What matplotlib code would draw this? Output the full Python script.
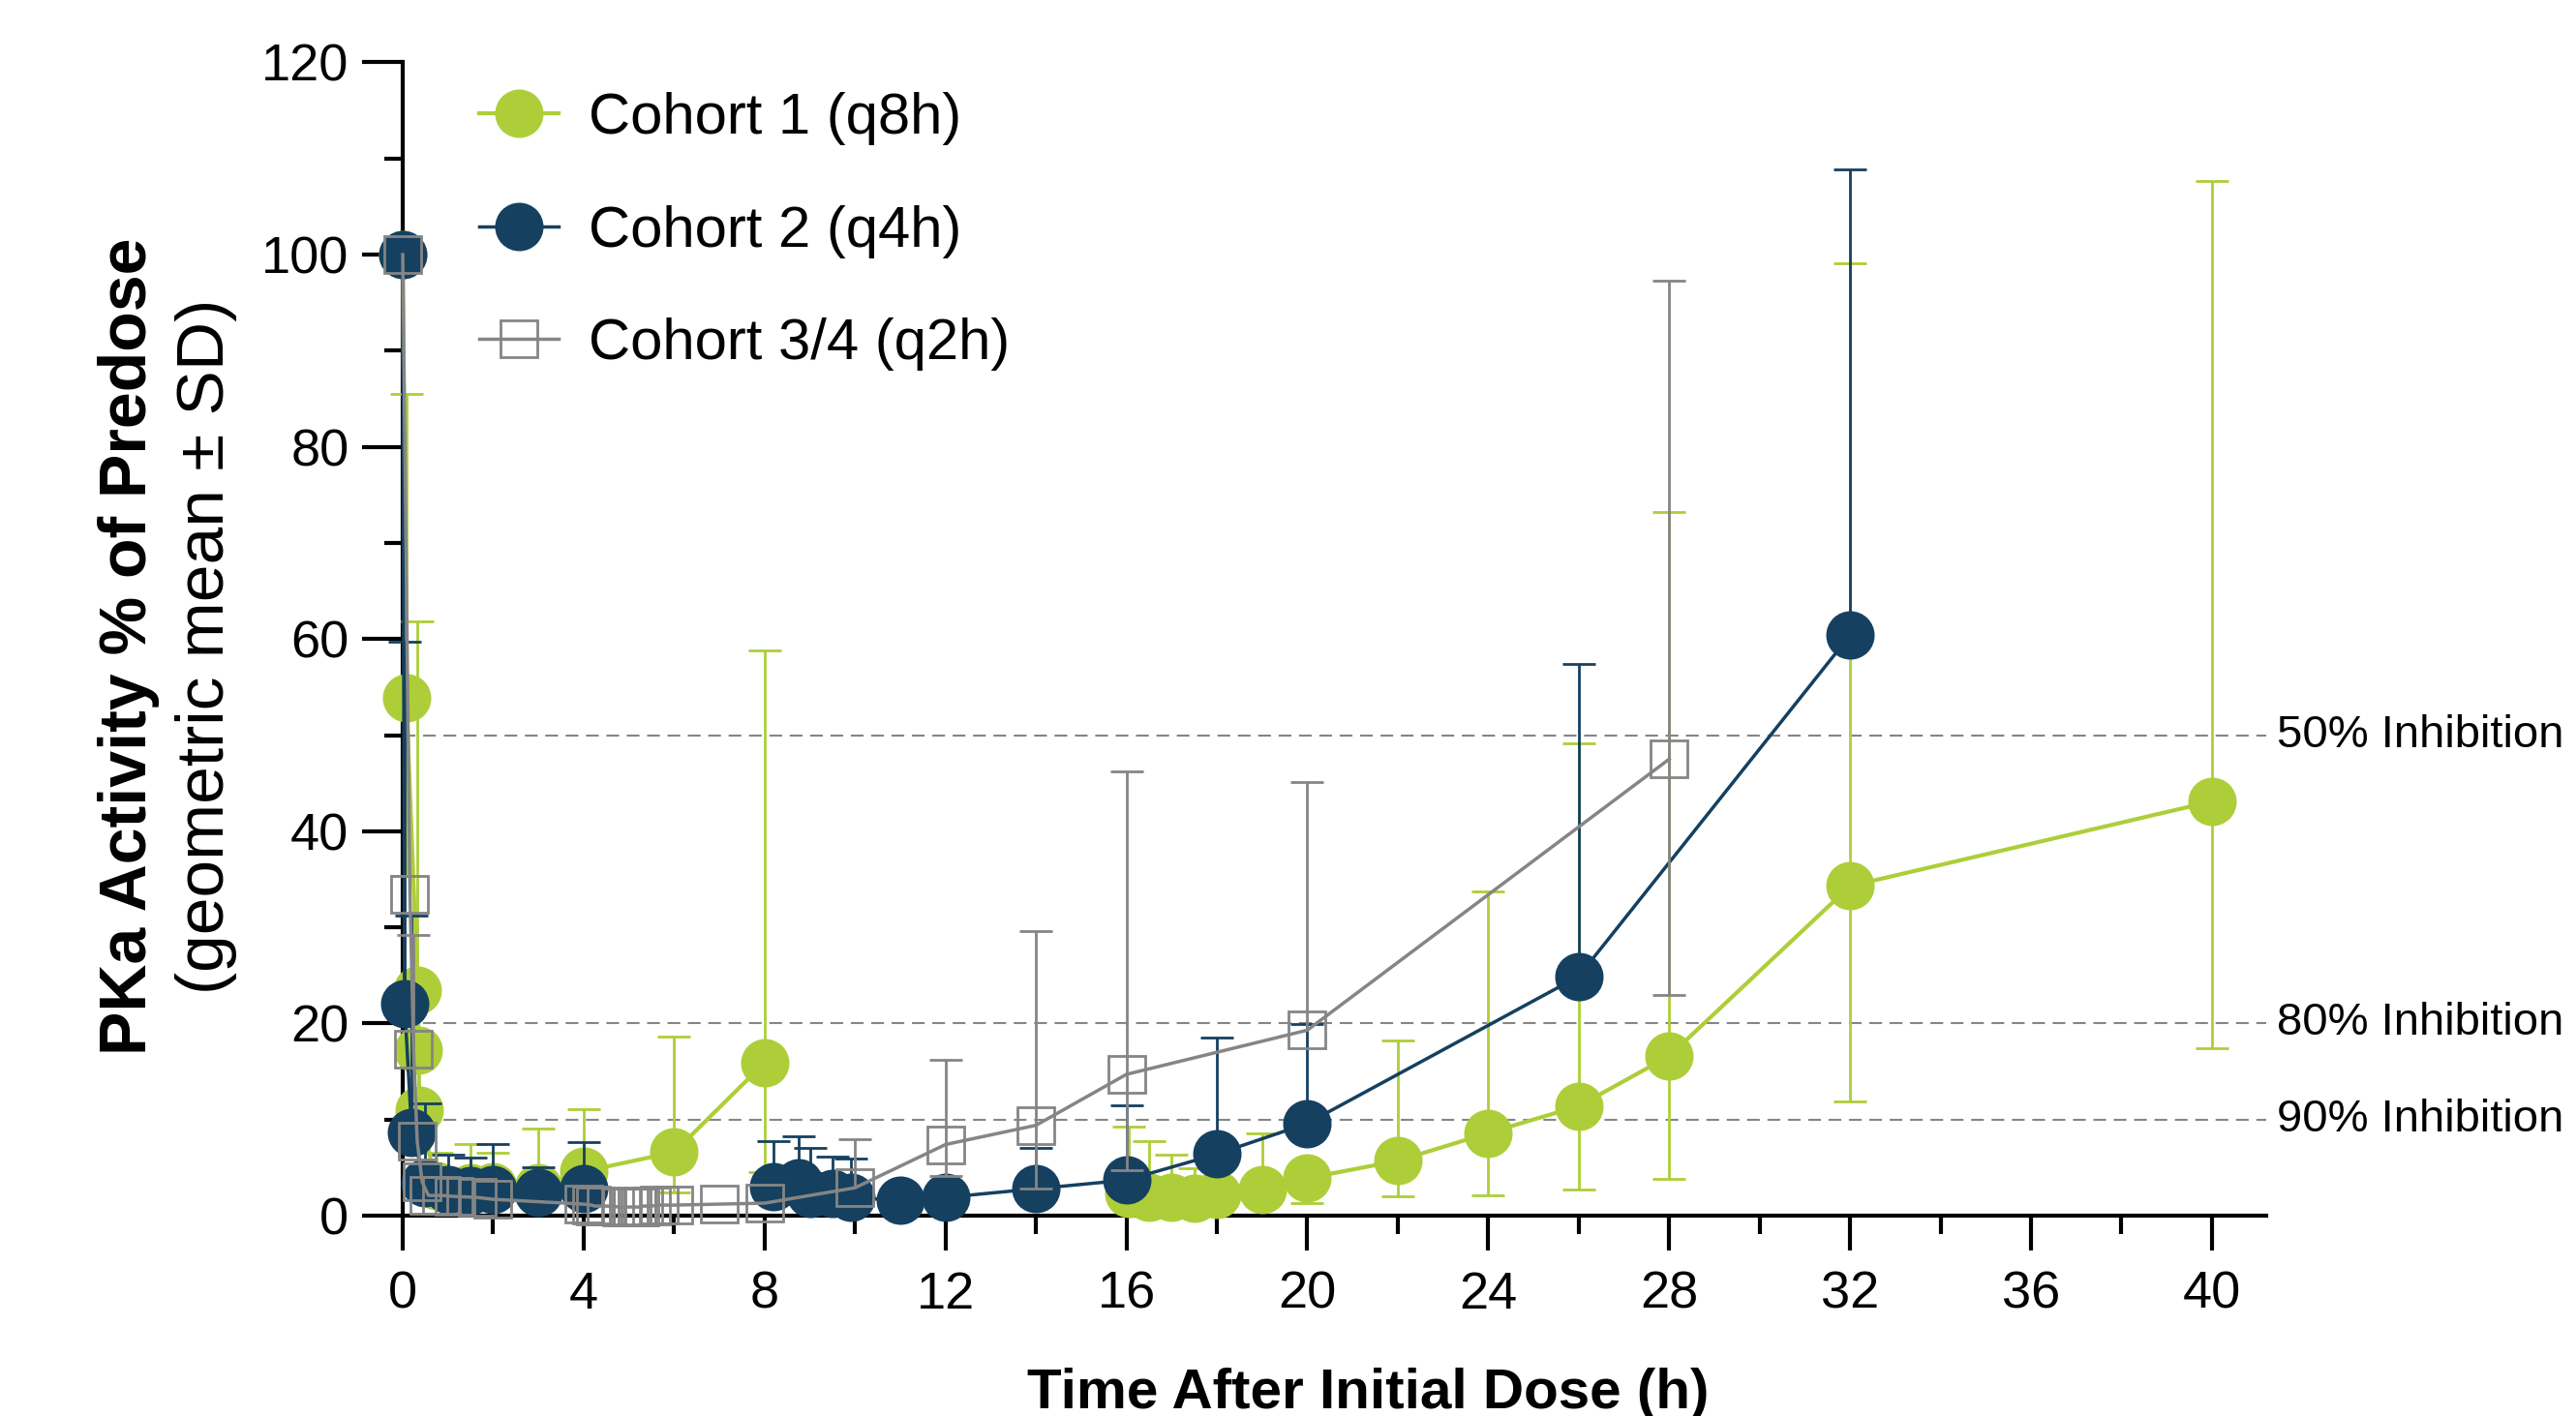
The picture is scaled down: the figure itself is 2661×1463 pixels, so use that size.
import numpy as np
import matplotlib
matplotlib.use("Agg")
import matplotlib.pyplot as plt
from matplotlib.ticker import MultipleLocator

plt.rcParams['font.family'] = ['Liberation Sans', 'DejaVu Sans']

GREEN = '#AECE39'
BLUE = '#154060'
GRAY = '#858585'

# Cohort 1 (q8h) - geometric mean and SD limits (None = no bar drawn)
c1_time = [0, 0.08, 0.33, 0.35, 0.37, 0.75, 1.5, 2, 3, 4, 6, 8,
           16.05, 16.5, 17, 17.5, 18, 19, 20, 22, 24, 26, 28, 32, 40]
c1_mean = [100, 53.9, 23.5, 17.2, 11.0, 3.1, 2.9, 3.0, 2.9, 4.6, 6.6, 15.9,
           2.3, 1.9, 1.9, 1.8, 2.2, 2.7, 3.9, 5.7, 8.6, 11.4, 16.6, 34.3, 43.1]
c1_high = [None, 85.5, 61.8, None, None, 6.5, 7.5, 6.5, 9.1, 11.1, 18.6, 58.8,
           9.3, 7.8, 6.3, 4.9, None, 8.6, None, 18.2, 33.7, 49.1, 73.2, 99.1, 107.7]
c1_low = [None, 35.4, None, None, None, None, None, None, None, None, 2.4, 4.5,
          1.1, None, None, None, None, None, 1.3, 2.0, 2.1, 2.7, 3.8, 11.9, 17.4]
c1_line_breaks = [8]   # connecting line not drawn after these times

# Cohort 2 (q4h)
c2_time = [0, 0.04, 0.2, 0.5, 1, 1.5, 2, 3, 4, 8.2, 8.75, 9, 9.5, 9.9,
           11, 12, 14, 16, 18, 20, 26, 32]
c2_mean = [100, 22.1, 8.7, 3.4, 2.7, 2.6, 2.7, 2.4, 2.8, 3.0, 3.4, 2.3, 2.3, 1.9,
           1.6, 1.9, 2.8, 3.7, 6.4, 9.6, 24.9, 60.4]
c2_high = [None, 59.7, 31.2, 11.7, 6.3, 6.0, 7.5, 5.0, 7.7, 7.8, 8.3, 7.0, 6.1, 5.9,
           None, None, 7.0, 11.5, 18.5, 19.9, 57.4, 108.9]
c2_line_breaks = [4]

# Cohort 3/4 (q2h)
c3_time = [0, 0.16, 0.24, 0.32, 0.43, 0.57, 0.86, 1.14, 1.64, 2,
           4, 4.17, 4.25, 4.5, 4.83, 5, 5.08, 5.17, 5.25, 5.33, 5.5, 5.67, 6,
           7, 8, 10, 12, 14, 16, 20, 28]
c3_mean = [100, 33.4, 17.3, 7.8, 3.5, 2.1, 2.1, 2.0, 1.9, 1.7,
           1.2, 1.1, 1.0, 1.0, 0.9, 0.9, 0.9, 0.9, 0.9, 1.0, 1.0, 1.1, 1.1,
           1.2, 1.3, 2.9, 7.4, 9.4, 14.7, 19.3, 47.5]
c3_high = [None, None, 29.2, None, None, None, None, None, None, None,
           None, None, None, None, None, None, None, None, None, None, None, None, None,
           None, None, 8.0, 16.2, 29.6, 46.2, 45.1, 97.3]
c3_low = [None, None, None, None, None, None, None, None, None, None,
          None, None, None, None, None, None, None, None, None, None, None, None, None,
          None, None, None, 4.1, 2.8, 4.7, None, 23.0]
c3_line_breaks = []

inhibition_levels = [50, 20, 10]
inhibition_labels = ['50% Inhibition', '80% Inhibition', '90% Inhibition']

ERR_LW = 2.0
CAP_W = 24
MS = 35


def draw_errors(ax, t, mean, ends, color, z):
    t = np.asarray(t, dtype=float)
    mean = np.asarray(mean, dtype=float)
    for end in ends:
        end = np.asarray(end, dtype=float)
        ax.vlines(t, mean, end, colors=color, lw=ERR_LW, zorder=z, clip_on=False)
        ax.plot(t, end, ls='none', marker='_', ms=CAP_W, mew=ERR_LW,
                color=color, zorder=z, clip_on=False)


def draw_series(ax, t, mean, breaks, color, lw, z, label, **mk):
    t = list(t)
    mean = list(mean)
    # connecting line, split where sampling blocks are not joined
    lt, lm = [], []
    for ti, mi in zip(t, mean):
        lt.append(ti)
        lm.append(mi)
        if ti in breaks:
            lt.append(np.nan)
            lm.append(np.nan)
    ax.plot(lt, lm, color=color, lw=lw, zorder=z, clip_on=False)
    ax.plot(t, mean, ls='none', zorder=z, clip_on=False, **mk)
    # legend proxy
    ax.plot([], [], color=color, lw=lw, label=label, **mk)


fig = plt.figure(figsize=(26.61, 14.63), dpi=100)
ax = fig.add_axes([0.15633, 0.14149, 0.72341, 0.81443])

# reference lines
for lvl, lab in zip(inhibition_levels, inhibition_labels):
    ax.axhline(lvl, color=GRAY, lw=1.5, ls=(0, (6.3, 3.8)), zorder=1)
    ax.text(41.43, lvl, lab, fontsize=34, va='center', ha='left', clip_on=False)

draw_errors(ax, c1_time, c1_mean, [c1_low, c1_high], GREEN, 3)
draw_series(ax, c1_time, c1_mean, c1_line_breaks, GREEN, 3, 3.1, 'Cohort 1 (q8h)',
            marker='o', ms=MS, mfc=GREEN, mec=GREEN)

draw_errors(ax, c2_time, c2_mean, [c2_high], BLUE, 4)
draw_series(ax, c2_time, c2_mean, c2_line_breaks, BLUE, 2.5, 4.1, 'Cohort 2 (q4h)',
            marker='o', ms=MS, mfc=BLUE, mec=BLUE)

draw_errors(ax, c3_time, c3_mean, [c3_low, c3_high], GRAY, 5)
draw_series(ax, c3_time, c3_mean, c3_line_breaks, GRAY, 2.5, 5.1, 'Cohort 3/4 (q2h)',
            marker='s', ms=27, mfc='none', mec=GRAY, mew=2)

ax.set_xlim(0, 41.2)
ax.set_ylim(0, 120)
ax.xaxis.set_major_locator(MultipleLocator(4))
ax.xaxis.set_minor_locator(MultipleLocator(2))
ax.yaxis.set_major_locator(MultipleLocator(20))
ax.yaxis.set_minor_locator(MultipleLocator(10))

for s in ['top', 'right']:
    ax.spines[s].set_visible(False)
for s in ['left', 'bottom']:
    ax.spines[s].set_linewidth(3)
    ax.spines[s].set_zorder(2)

ax.tick_params(axis='y', which='major', length=30, width=3, labelsize=39, pad=10)
ax.tick_params(axis='y', which='minor', length=14, width=3)
ax.tick_params(axis='x', which='major', length=26, width=3, labelsize=39, pad=15)
ax.tick_params(axis='x', which='minor', length=14, width=3)

leg = ax.legend(loc='upper left', bbox_to_anchor=(0.186, 0.935),
                bbox_transform=fig.transFigure, frameon=False, fontsize=43,
                borderpad=0, borderaxespad=0, handlelength=1.38,
                handletextpad=0.52, labelspacing=1.03, numpoints=1)

fig.text(0.0566, 0.5434, 'PKa Activity % of Predose', rotation=90,
         rotation_mode='anchor', ha='center', va='baseline',
         fontsize=49, fontweight='bold')
fig.text(0.0868, 0.5434, '(geometric mean \u00b1 SD)', rotation=90,
         rotation_mode='anchor', ha='center', va='baseline', fontsize=50)
fig.text(0.531, 0.0055, 'Time After Initial Dose (h)', ha='center',
         va='baseline', fontsize=42, fontweight='bold')

fig.savefig('out.png', dpi=100)
